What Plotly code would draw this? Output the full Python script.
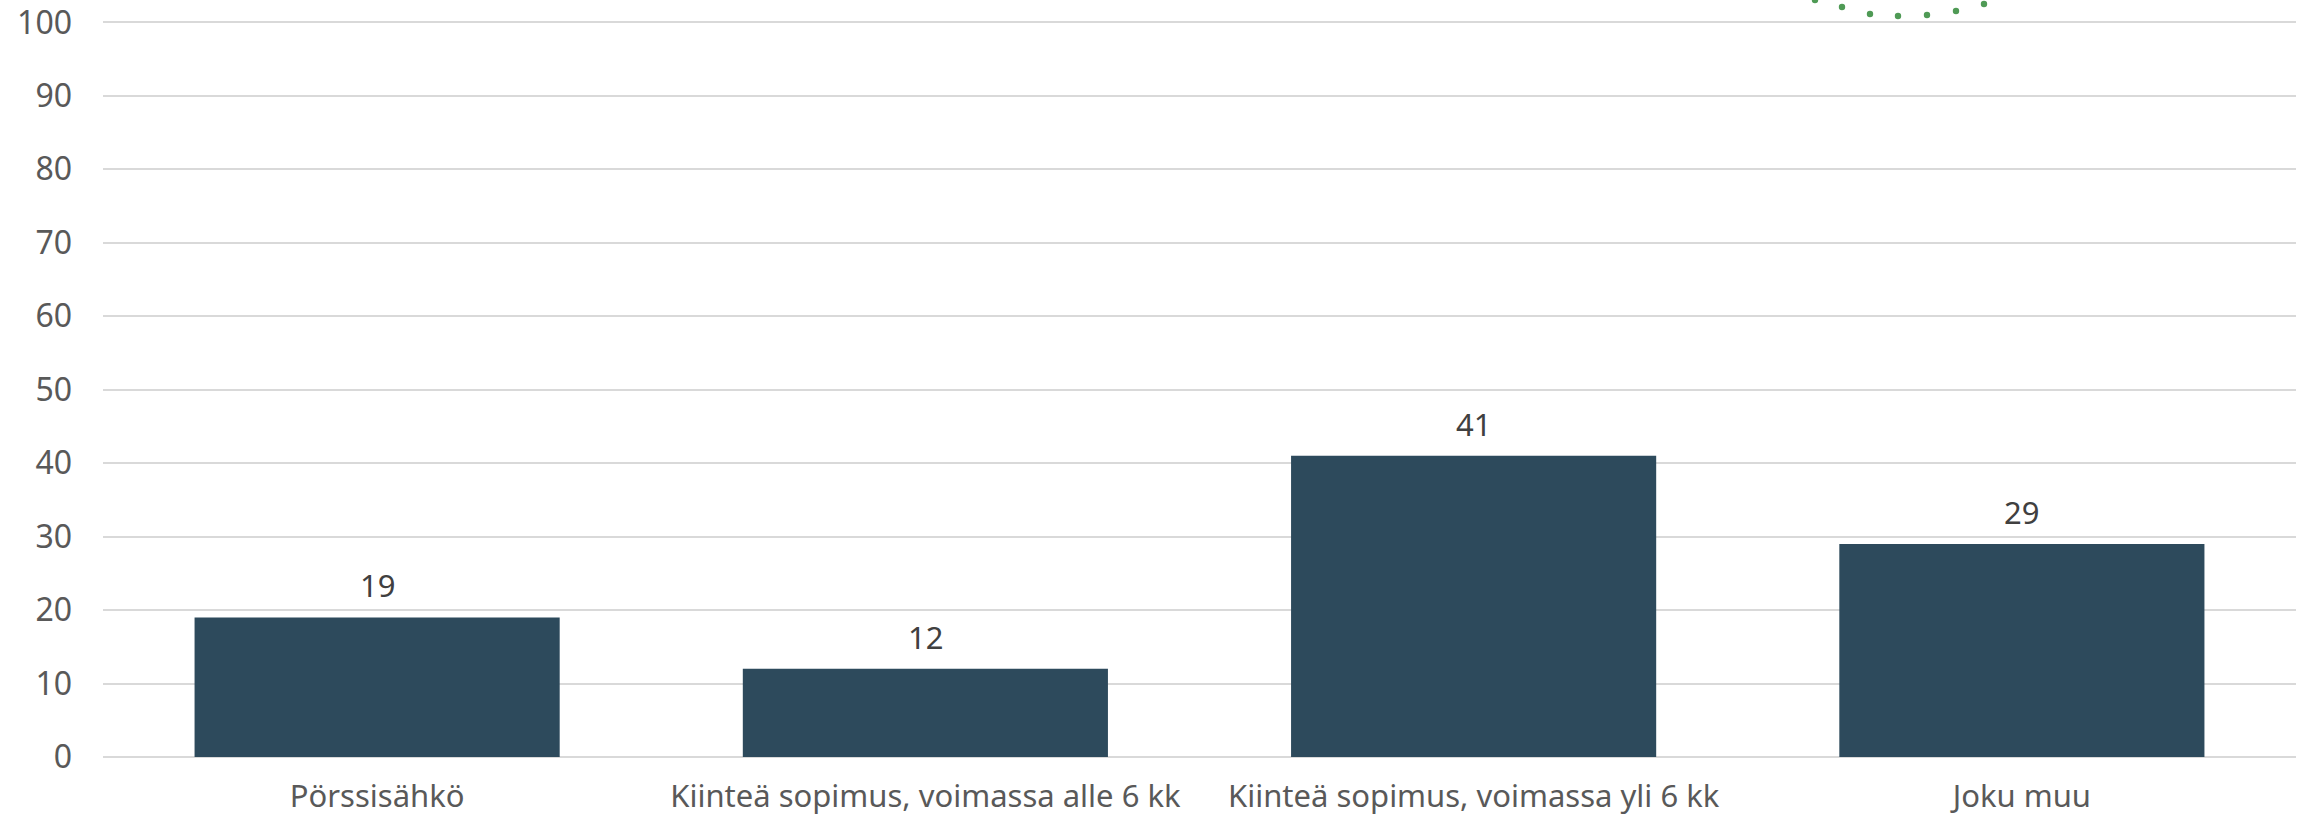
import plotly.graph_objects as go

categories = ["Pörssisähkö", "Kiinteä sopimus, voimassa alle 6 kk",
              "Kiinteä sopimus, voimassa yli 6 kk", "Joku muu"]
values = [19, 12, 41, 29]
y_ticks = [0, 10, 20, 30, 40, 50, 60, 70, 80, 90, 100]
y_max = 101

# decorative dotted arc (pixel positions in the page)
deco_x = [1815, 1842, 1870, 1898, 1927, 1956, 1984]
deco_y = [0, 7, 14, 16, 15, 11, 4]

W, H = 2303, 820
# plot area in page pixels: x 103..2296, value 0 at y=757, 100 at y=22
L = 103
R = W - 2296
B = H - 757
T = 15
pw, ph = W - L - R, H - T - B

FONT = "Noto Sans"

fig = go.Figure(go.Bar(
    x=categories, y=values,
    marker=dict(color="#2d4a5c", line=dict(width=0)),
    width=0.666, hoverinfo="x+y",
))

for c, v in zip(categories, values):
    fig.add_annotation(x=c, y=v, text=str(v), showarrow=False,
                       yanchor="middle", yshift=32,
                       font=dict(family=FONT, size=31, color="#404040"))

shapes = []
for px, py in zip(deco_x, deco_y):
    shapes.append(dict(
        type="circle", xref="paper", yref="paper",
        xsizemode="pixel", ysizemode="pixel",
        xanchor=(px - L) / pw, yanchor=(H - B - py) / ph,
        x0=-3.2, x1=3.2, y0=-3.2, y1=3.2,
        fillcolor="#4f9a55", line=dict(width=0), layer="above",
    ))

fig.update_layout(
    width=W, height=H,
    margin=dict(l=L, r=R, t=T, b=B, autoexpand=False),
    plot_bgcolor="white", paper_bgcolor="white",
    showlegend=False,
    shapes=shapes,
    xaxis=dict(tickfont=dict(family=FONT, size=31, color="#595959"),
               showgrid=False, showline=False, ticks="", ticklabelstandoff=18),
    yaxis=dict(range=[0, y_max], tickvals=y_ticks,
               tickfont=dict(family=FONT, size=32, color="#595959"),
               showgrid=True, gridcolor="#d9d9d9", gridwidth=1.5,
               zeroline=True, zerolinecolor="#d9d9d9", zerolinewidth=1.5,
               showline=False, ticks="", ticklabelstandoff=30,
               ticklabeloverflow="allow"),
)

fig.write_html("out.html",
               config={"displayModeBar": False},
               post_script="document.body.style.margin='0';document.body.style.overflow='hidden';")
